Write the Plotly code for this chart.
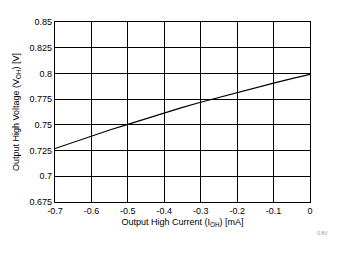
import plotly.graph_objects as go

current_ma = [-0.7, -0.65, -0.6, -0.55, -0.5, -0.45, -0.4, -0.35, -0.3, -0.25, -0.2, -0.15, -0.1, -0.05, 0.0]
voltage_v = [0.7270, 0.7330, 0.7393, 0.7450, 0.7505, 0.7562, 0.7618, 0.7670, 0.7720, 0.7768, 0.7814, 0.7860, 0.7906, 0.7950, 0.7990]

x_ticks = [-0.7, -0.6, -0.5, -0.4, -0.3, -0.2, -0.1, 0]
x_labels = ["-0.7", "-0.6", "-0.5", "-0.4", "-0.3", "-0.2", "-0.1", "0"]
y_ticks = [0.675, 0.7, 0.725, 0.75, 0.775, 0.8, 0.825, 0.85]
y_labels = ["0.675", "0.7", "0.725", "0.75", "0.775", "0.8", "0.825", "0.85"]

fig = go.Figure()
fig.add_trace(go.Scatter(x=current_ma, y=voltage_v, mode="lines",
                         line=dict(color="black", width=1.2), showlegend=False))

font = dict(family="Liberation Sans, Arial, sans-serif", size=9, color="black")
fig.update_layout(
    width=343, height=254,
    margin=dict(l=55, r=33, t=22, b=52),
    paper_bgcolor="white", plot_bgcolor="white",
    font=font,
    xaxis=dict(range=[-0.7, 0], tickvals=x_ticks, ticktext=x_labels,
               showgrid=True, gridcolor="black", gridwidth=1.2,
               showline=True, linecolor="black", linewidth=1.2, mirror=True,
               zeroline=False, ticks="", ticklen=0,
               title=dict(text="Output High Current (I<sub>OH</sub>) [mA]", font=font, standoff=3)),
    yaxis=dict(range=[0.675, 0.85], tickvals=y_ticks, ticktext=y_labels,
               showgrid=True, gridcolor="black", gridwidth=1.2,
               showline=True, linecolor="black", linewidth=1.2, mirror=True,
               zeroline=False, ticks="", ticklen=0,
               title=dict(text="Output High Voltage (V<sub>OH</sub>) [V]", font=font, standoff=8)),
)
fig.add_annotation(text="0.8V", xref="paper", yref="paper", x=1.05, y=-0.17,
                   xanchor="center", yanchor="middle", showarrow=False,
                   font=dict(family="Liberation Sans, Arial, sans-serif", size=5, color="#999999"))
fig.write_html("out.html")
